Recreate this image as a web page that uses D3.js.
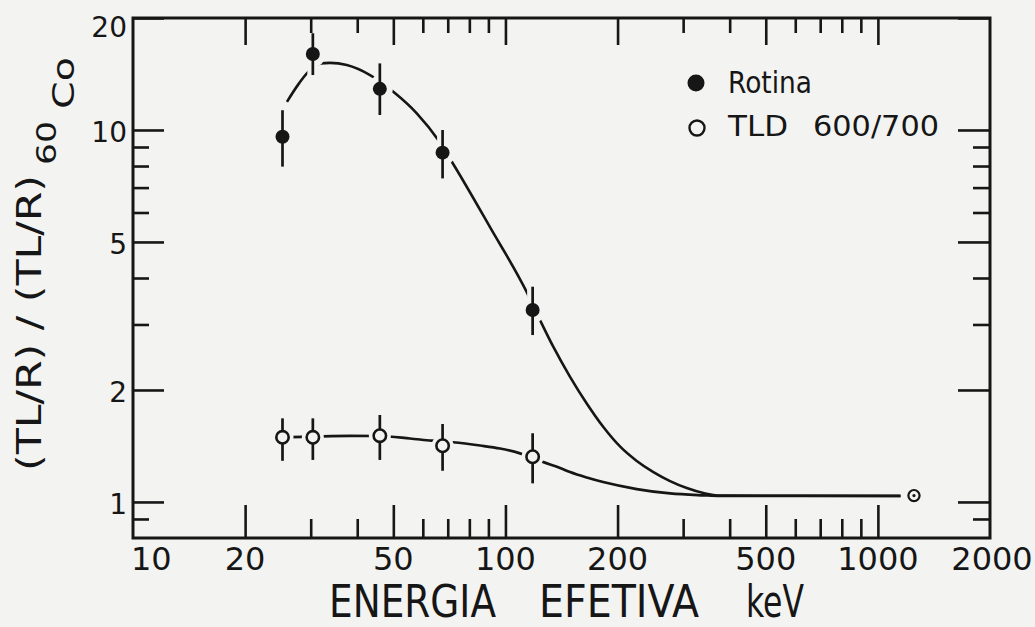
<!DOCTYPE html>
<html>
<head>
<meta charset="utf-8">
<script src="https://cdn.jsdelivr.net/npm/d3@7"></script>
<style>
  body { margin: 0; background: #f3f3f1; }
  svg { display: block; }
  text { font-family: "DejaVu Sans", sans-serif; fill: #161616; }
</style>
</head>
<body>
<svg id="chart" width="1035" height="627"></svg>
<script>
// measured points, energy in keV
let energies = [25.2, 30.4, 46, 67.8, 118.3];

let rotina = [9.59, 16.0, 12.9, 8.69, 3.28];
let rotinaLow = [7.97, 14.05, 10.97, 7.41, 2.81];
let rotinaHigh = [11.3, 18.2, 15.1, 10.0, 3.79];

let tld = [1.492, 1.492, 1.507, 1.416, 1.323];
let tldLow = [1.29, 1.297, 1.297, 1.213, 1.122];
let tldHigh = [1.678, 1.678, 1.713, 1.62, 1.53];

let coEnergy = 1250;
let coValue = 1.04;

// fitted curves as drawn in the figure
let rotinaCurveE = [25.9, 27.7, 29.5, 31.8, 33.8, 37.5, 43.3, 50, 57.8, 66, 72.2, 90.9, 114, 123.9, 134.5, 149.1, 165.3, 183.2, 203, 225.2, 249.6, 276.7, 306.8, 340, 377, 1150];
let rotinaCurveV = [11.9, 13.2, 14.3, 15.1, 15.15, 14.95, 14.05, 12.67, 11.09, 9.4, 8.14, 5.48, 3.67, 3.08, 2.61, 2.17, 1.84, 1.59, 1.41, 1.289, 1.203, 1.138, 1.09, 1.057, 1.04, 1.038];

let tldCurveE = [25.1, 30.3, 38.3, 45.8, 55.4, 63.4, 72.2, 85.5, 96.7, 109.4, 117.7, 125.2, 140.2, 149.1, 165.3, 182.9, 225.2, 276.7, 339.4, 377, 1150];
let tldCurveV = [1.492, 1.499, 1.506, 1.504, 1.481, 1.461, 1.447, 1.418, 1.392, 1.351, 1.317, 1.284, 1.234, 1.203, 1.163, 1.131, 1.083, 1.054, 1.042, 1.038, 1.038];

// ticks
let xMajor = [20, 50, 100, 200, 500, 1000];
let xMinor = [30, 40, 60, 70, 80, 90, 300, 400, 600, 700, 800, 900];
let xLabels = [10, 20, 50, 100, 200, 500, 1000, 2000];
let yMajor = [1, 2, 5, 10, 20];
let yMinor = [0.9, 3, 4, 6, 7, 8, 9];
let yLabels = [1, 2, 5, 10, 20];

let ink = '#161616';
let paper = '#f3f3f1';

let svg = d3.select('#chart');
let margin = {left: 133, right: 990, top: 18, bottom: 538};

let x = d3.scaleLog().domain([10, 2000]).range([margin.left, margin.right]);
let y = d3.scaleLog().domain([0.8, 20]).range([margin.bottom, margin.top]);

function styleAxis(g) {
	g.select('.domain').remove();
	g.selectAll('.tick line').attr('stroke', ink).attr('stroke-width', 2.6);
	g.selectAll('.tick text').remove();
}

// inward ticks on all four sides
svg.append('g').attr('transform', 'translate(0,' + margin.bottom + ')')
	.call(d3.axisBottom(x).tickValues(xMajor).tickSize(-33)).call(styleAxis);
svg.append('g').attr('transform', 'translate(0,' + margin.bottom + ')')
	.call(d3.axisBottom(x).tickValues(xMinor).tickSize(-19)).call(styleAxis);
svg.append('g').attr('transform', 'translate(0,' + margin.top + ')')
	.call(d3.axisTop(x).tickValues(xMajor).tickSize(-27)).call(styleAxis);
svg.append('g').attr('transform', 'translate(0,' + margin.top + ')')
	.call(d3.axisTop(x).tickValues(xMinor).tickSize(-15)).call(styleAxis);
svg.append('g').attr('transform', 'translate(' + margin.left + ',0)')
	.call(d3.axisLeft(y).tickValues(yMajor).tickSize(-31)).call(styleAxis);
svg.append('g').attr('transform', 'translate(' + margin.left + ',0)')
	.call(d3.axisLeft(y).tickValues(yMinor).tickSize(-16)).call(styleAxis);
svg.append('g').attr('transform', 'translate(' + margin.right + ',0)')
	.call(d3.axisRight(y).tickValues(yMajor).tickSize(-32)).call(styleAxis);
svg.append('g').attr('transform', 'translate(' + margin.right + ',0)')
	.call(d3.axisRight(y).tickValues(yMinor).tickSize(-17)).call(styleAxis);

svg.append('rect')
	.attr('x', margin.left).attr('y', margin.top)
	.attr('width', margin.right - margin.left).attr('height', margin.bottom - margin.top)
	.attr('fill', 'none').attr('stroke', ink).attr('stroke-width', 3);

// tick labels
svg.append('g').selectAll('text')
	.data(xLabels)
	.enter().append('text')
	.attr('x', function(d) { return d === 10 ? x(d) - 2 : (d === 2000 ? x(d) + 2 : x(d)); })
	.attr('y', 570)
	.attr('text-anchor', function(d) { return d === 10 ? 'start' : 'middle'; })
	.style('font-size', '32px')
	.text(function(d) { return d; });

svg.append('g').selectAll('text')
	.data(yLabels)
	.enter().append('text')
	.attr('x', 127)
	.attr('y', function(d) { return d === 20 ? 37 : y(d) + 12; })
	.attr('text-anchor', 'end')
	.style('font-size', '28px')
	.text(function(d) { return d; });

// axis titles
let xTitle = [['ENERGIA', 329, 167], ['EFETIVA', 539, 160], ['keV', 746, 58]];
svg.append('g').selectAll('text')
	.data(xTitle)
	.enter().append('text')
	.attr('x', function(d) { return d[1]; })
	.attr('y', 617)
	.attr('textLength', function(d) { return d[2]; })
	.attr('lengthAdjust', 'spacingAndGlyphs')
	.style('font-size', '44px')
	.text(function(d) { return d[0]; });

let yTitle = svg.append('g').attr('transform', 'translate(41,471) rotate(-90)');
yTitle.append('text')
	.attr('x', 0).attr('y', 0)
	.attr('textLength', 296).attr('lengthAdjust', 'spacingAndGlyphs')
	.style('font-size', '34px')
	.text('(TL/R) / (TL/R)');
yTitle.append('text')
	.attr('x', 306).attr('y', 15)
	.attr('textLength', 44).attr('lengthAdjust', 'spacingAndGlyphs')
	.style('font-size', '27px')
	.text('60');
yTitle.append('text')
	.attr('x', 362).attr('y', 33)
	.attr('textLength', 52).attr('lengthAdjust', 'spacingAndGlyphs')
	.style('font-size', '31px')
	.text('Co');

// curves
let line = d3.line()
	.x(function(d) { return x(d[0]); })
	.y(function(d) { return y(d[1]); })
	.curve(d3.curveMonotoneX);

let rotinaCurve = rotinaCurveE.map(function(e, i) { return [e, rotinaCurveV[i]]; });
let tldCurve = tldCurveE.map(function(e, i) { return [e, tldCurveV[i]]; });

svg.append('path').datum(tldCurve)
	.attr('d', line).attr('fill', 'none').attr('stroke', ink).attr('stroke-width', 2.7);
svg.append('path').datum(rotinaCurve)
	.attr('d', line).attr('fill', 'none').attr('stroke', ink).attr('stroke-width', 2.6);

// white gaps around the measured points
function points(values, low, high) {
	return energies.map(function(e, i) { return {e: e, v: values[i], lo: low[i], hi: high[i]}; });
}
let rotinaPts = points(rotina, rotinaLow, rotinaHigh);
let tldPts = points(tld, tldLow, tldHigh);

let halo = svg.append('g');
halo.selectAll('.hr').data(rotinaPts).enter().append('circle')
	.attr('cx', function(d) { return x(d.e); }).attr('cy', function(d) { return y(d.v); })
	.attr('r', 13).attr('fill', paper);
halo.selectAll('.hl').data(rotinaPts).enter().append('line')
	.attr('x1', function(d) { return x(d.e); }).attr('x2', function(d) { return x(d.e); })
	.attr('y1', function(d) { return y(d.lo); }).attr('y2', function(d) { return y(d.hi); })
	.attr('stroke', paper).attr('stroke-width', 11);
halo.selectAll('.ht').data(tldPts).enter().append('circle')
	.attr('cx', function(d) { return x(d.e); }).attr('cy', function(d) { return y(d.v); })
	.attr('r', 11).attr('fill', paper);
halo.append('circle')
	.attr('cx', x(coEnergy)).attr('cy', y(coValue)).attr('r', 11).attr('fill', paper);

// error bars
let bars = svg.append('g').attr('stroke', ink).attr('stroke-width', 2.7);
bars.selectAll('line').data(rotinaPts.concat(tldPts)).enter().append('line')
	.attr('x1', function(d) { return x(d.e); }).attr('x2', function(d) { return x(d.e); })
	.attr('y1', function(d) { return y(d.lo); }).attr('y2', function(d) { return y(d.hi); });

// markers
svg.append('g').selectAll('circle').data(rotinaPts).enter().append('circle')
	.attr('cx', function(d) { return x(d.e); }).attr('cy', function(d) { return y(d.v); })
	.attr('r', 7).attr('fill', ink);
svg.append('g').selectAll('circle').data(tldPts).enter().append('circle')
	.attr('cx', function(d) { return x(d.e); }).attr('cy', function(d) { return y(d.v); })
	.attr('r', 6.2).attr('fill', paper).attr('stroke', ink).attr('stroke-width', 2.6);

svg.append('circle')
	.attr('cx', x(coEnergy)).attr('cy', y(coValue)).attr('r', 5.6)
	.attr('fill', paper).attr('stroke', ink).attr('stroke-width', 2.2);
svg.append('circle')
	.attr('cx', x(coEnergy)).attr('cy', y(coValue)).attr('r', 1.6).attr('fill', ink);

// legend
svg.append('circle').attr('cx', 696).attr('cy', 83).attr('r', 8.5).attr('fill', ink);
svg.append('text').attr('x', 728).attr('y', 93)
	.attr('textLength', 84).attr('lengthAdjust', 'spacingAndGlyphs')
	.style('font-size', '30px').text('Rotina');
svg.append('circle').attr('cx', 697).attr('cy', 128).attr('r', 7.5)
	.attr('fill', 'none').attr('stroke', ink).attr('stroke-width', 2.4);
svg.append('text').attr('x', 728).attr('y', 136)
	.attr('textLength', 60).attr('lengthAdjust', 'spacingAndGlyphs')
	.style('font-size', '29px').text('TLD');
svg.append('text').attr('x', 813).attr('y', 136)
	.attr('textLength', 126).attr('lengthAdjust', 'spacingAndGlyphs')
	.style('font-size', '29px').text('600/700');
</script>
</body>
</html>
